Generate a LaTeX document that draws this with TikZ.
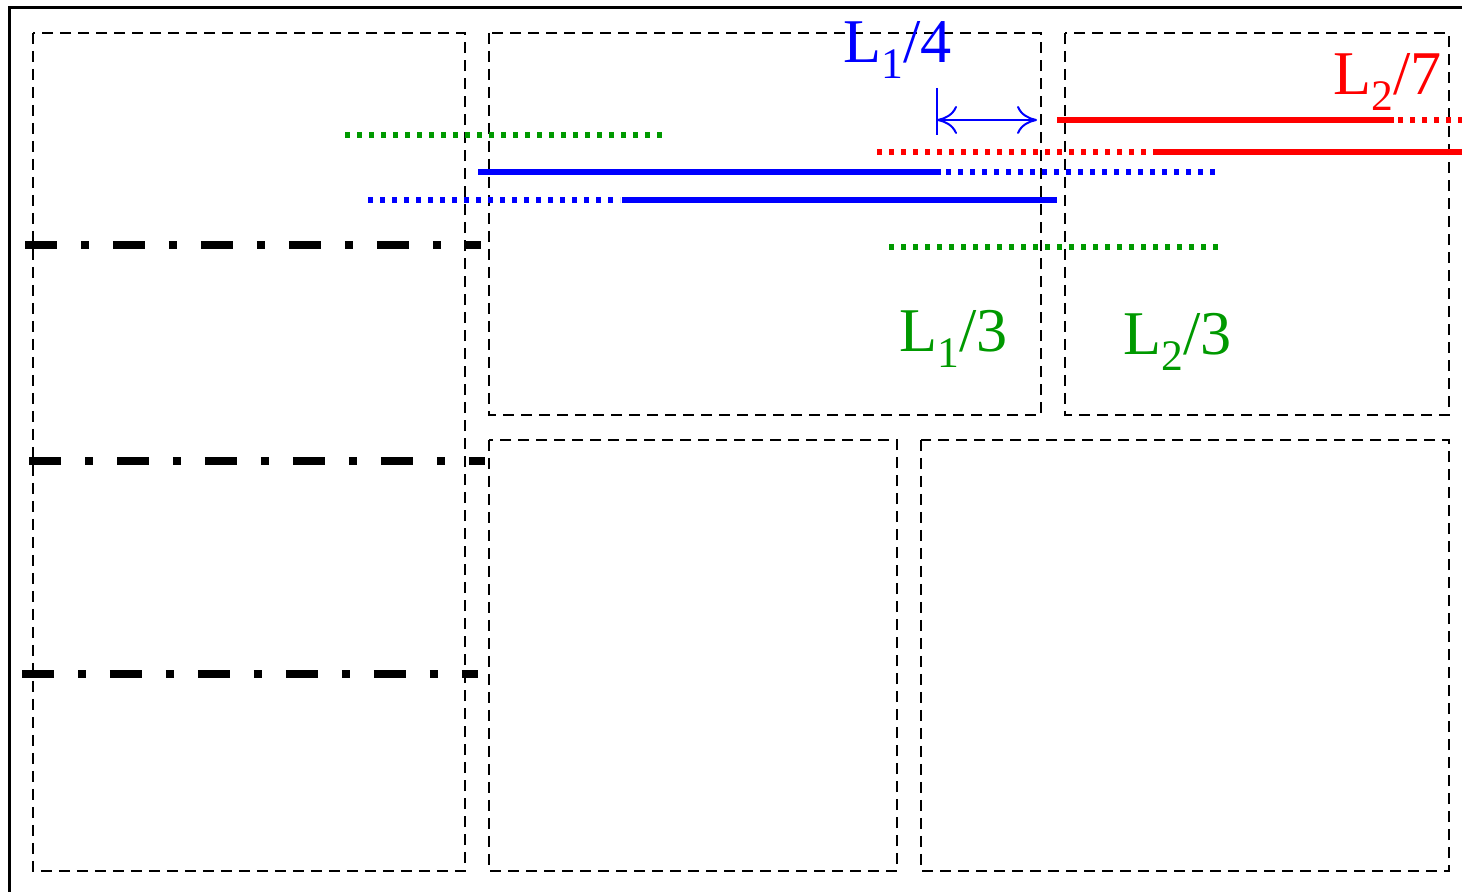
\documentclass[tikz,border=0pt]{standalone}
\usepackage{fontspec}
\setmainfont{Liberation Serif}
\usepackage{tikz}
\usetikzlibrary{arrows.meta}
\definecolor{dgreen}{RGB}{0,153,0}
\newcommand{\lowidx}[1]{\raisebox{-4.3pt}{\fontsize{12.4}{12}\selectfont #1}}
\tikzstyle{cell}=[draw=black,line width=0.25mm,dash pattern=on 1.1mm off 0.7mm]
\tikzstyle{cut}=[line width=0.8mm,dash pattern=on 3.2mm off 2.4mm on 0.8mm off 2.4mm]
\tikzstyle{band}=[line width=0.55mm]
\tikzstyle{halo}=[line width=0.55mm,dash pattern=on 0.5mm off 0.7mm]
\tikzstyle{lbl}=[inner sep=0pt,anchor=base west,font=\fontsize{17.7}{20}\selectfont]

\begin{document}
\begin{tikzpicture}[x=0.1mm,y=-0.1mm]
\useasboundingbox (0,0) rectangle (1462,892);
\clip (0,0) rectangle (1462,892);
% frame
\draw[line width=0.3mm] (9,8) rectangle (1490,920);

% boxes
\draw[cell] (33,33) rectangle (465,871);
\draw[cell] (489,33) rectangle (1041,415);
\draw[cell] (1065,33) rectangle (1449,415);
\draw[cell] (489,440) rectangle (897,871);
\draw[cell] (921,440) rectangle (1449,871);

% cuts
\draw[cut] (25,245) -- (481,245);
\draw[cut] (29,461) -- (485,461);
\draw[cut] (22,674) -- (478,674);

% green strips
\draw[halo,dgreen] (345,135) -- (662,135);
\draw[halo,dgreen] (889,247) -- (1218,247);

% blue strips
\draw[band,blue] (478,172) -- (941,172);
\draw[halo,blue] (946,172) -- (1218,172);
\draw[halo,blue] (368,200) -- (620,200);
\draw[band,blue] (622,200) -- (1057,200);

% red strips
\draw[band,red] (1057,120) -- (1394,120);
\draw[halo,red] (1398,120) -- (1470,120);
\draw[halo,red] (877,152) -- (1150,152);
\draw[band,red] (1153,152) -- (1470,152);

% shift marker
\coordinate (tt) at (937,88);
\coordinate (tb) at (937,135);
\coordinate (ta) at (937,120);
\coordinate (te) at (1037,120);
\draw[blue,line width=0.25mm] (tt) -- (tb);
\draw[blue,line width=0.2mm,{To[length=2mm,width=2.8mm]}-{To[length=2mm,width=2.8mm]}] (ta) -- (te);

% labels
\node[lbl,text=blue] (l14) at (843,63) {L\lowidx{1}/4};
\node[lbl,text=red] (l27) at (1333,95) {L\lowidx{2}/7};
\node[lbl,text=dgreen] (l13) at (899,352) {L\lowidx{1}/3};
\node[lbl,text=dgreen] (l23) at (1123,355) {L\lowidx{2}/3};

\end{tikzpicture}
\end{document}
